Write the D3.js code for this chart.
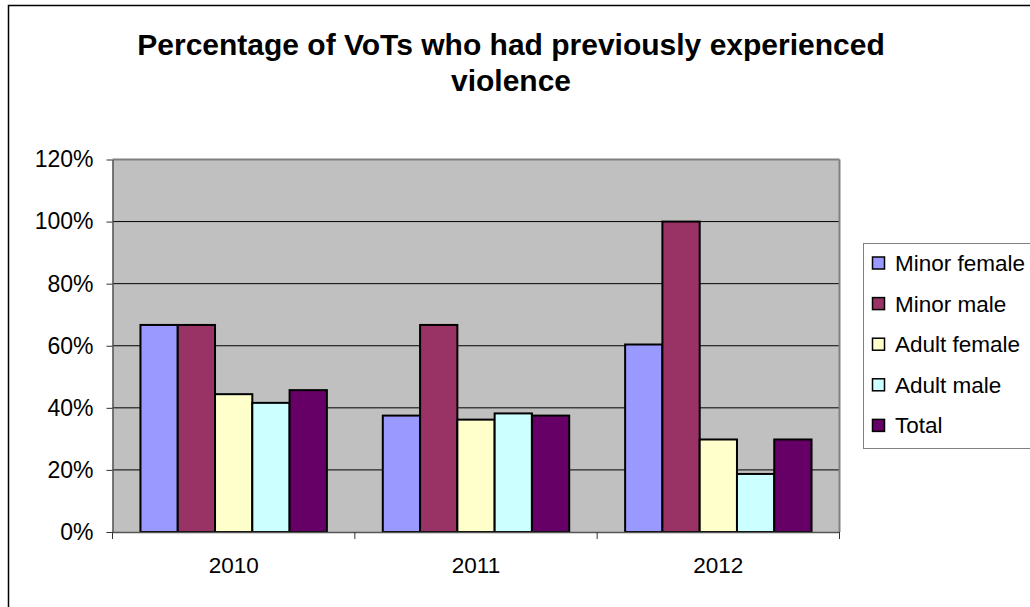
<!DOCTYPE html>
<html>
<head>
<meta charset="utf-8">
<script src="https://cdn.jsdelivr.net/npm/d3@7"></script>
<style>
  html, body { margin: 0; padding: 0; background: #fff; }
  svg { display: block; font-family: "Liberation Sans", Arial, sans-serif; }
</style>
</head>
<body>
<svg id="chart" width="1030" height="607"></svg>
<script>
// Data
const years = ["2010", "2011", "2012"];
const seriesNames = ["Minor female", "Minor male", "Adult female", "Adult male", "Total"];
const minorFemale = [66.7, 37.5, 60.4];
const minorMale   = [66.7, 66.7, 100];
const adultFemale = [44.4, 36.2, 29.8];
const adultMale   = [41.6, 38.2, 18.7];
const total       = [45.7, 37.5, 29.8];
const yTicks = [0, 20, 40, 60, 80, 100, 120];
const seriesColors = ["#9999FF", "#993366", "#FFFFCC", "#CCFFFF", "#660066"];

const seriesValues = [minorFemale, minorMale, adultFemale, adultMale, total];

const svg = d3.select("#chart");

// Outer chart frame (runs past the window on the right and bottom)
svg.append("rect")
  .attr("x", 8.5).attr("y", 5.5)
  .attr("width", 1040).attr("height", 620)
  .attr("fill", "#fff").attr("stroke", "#000").attr("stroke-width", 1.5);

// Title
const title = svg.append("text")
  .attr("text-anchor", "middle")
  .attr("font-weight", "bold")
  .attr("font-size", 30)
  .attr("fill", "#000");
title.append("tspan").attr("x", 511).attr("y", 55)
  .text("Percentage of VoTs who had previously experienced");
title.append("tspan").attr("x", 511).attr("y", 91)
  .text("violence");

// Plot area
const plot = { left: 112.5, right: 839.5, top: 159.5, bottom: 532 };

const x = d3.scaleBand()
  .domain(years)
  .range([plot.left, plot.right]);

// Gap width of 150%: five bars plus 1.5 bar widths of gap per category
const barW = x.bandwidth() / (seriesNames.length + 1.5);
const xInner = d3.scaleBand()
  .domain(seriesNames)
  .range([0, barW * seriesNames.length]);

const y = d3.scaleLinear()
  .domain([0, 120])
  .range([plot.bottom, plot.top]);

// Plot background
svg.append("rect")
  .attr("x", plot.left).attr("y", plot.top)
  .attr("width", plot.right - plot.left)
  .attr("height", plot.bottom - plot.top)
  .attr("fill", "#C0C0C0");

// Horizontal gridlines
svg.append("g")
  .selectAll("line")
  .data(yTicks.filter(d => d > 0))
  .join("line")
  .attr("x1", plot.left).attr("x2", plot.right)
  .attr("y1", d => y(d)).attr("y2", d => y(d))
  .attr("stroke", d => d === 120 ? "#808080" : "#000")
  .attr("stroke-width", d => d === 120 ? 2 : 1);

// Right border of the plot area
svg.append("line")
  .attr("x1", plot.right).attr("x2", plot.right)
  .attr("y1", plot.top).attr("y2", plot.bottom)
  .attr("stroke", "#808080").attr("stroke-width", 2);

// Bars
const groups = svg.append("g")
  .selectAll("g")
  .data(years)
  .join("g")
  .attr("transform", d => `translate(${x(d) + (x.bandwidth() - barW * seriesNames.length) / 2},0)`);

groups.selectAll("rect")
  .data((d, i) => seriesNames.map((s, j) => ({ series: s, value: seriesValues[j][i], color: seriesColors[j] })))
  .join("rect")
  .attr("x", d => xInner(d.series))
  .attr("y", d => y(d.value))
  .attr("width", xInner.bandwidth())
  .attr("height", d => y(0) - y(d.value))
  .attr("fill", d => d.color)
  .attr("stroke", "#000")
  .attr("stroke-width", 2);

// Y axis
const yAxis = svg.append("g")
  .attr("transform", `translate(${plot.left},0)`)
  .call(d3.axisLeft(y).tickValues(yTicks).tickFormat(d => d + "%").tickSize(6).tickSizeOuter(0));
yAxis.select(".domain").attr("stroke", "#555").attr("stroke-width", 1.5);
yAxis.selectAll(".tick line").attr("stroke", "#333");
yAxis.selectAll(".tick text")
  .attr("font-size", 23)
  .attr("font-family", "Liberation Sans, Arial, sans-serif")
  .attr("fill", "#000")
  .attr("x", -19);

// X axis
const xAxis = svg.append("g")
  .attr("transform", `translate(0,${plot.bottom})`)
  .call(d3.axisBottom(x).tickSize(0).tickSizeOuter(0));
xAxis.select(".domain").attr("stroke", "#555").attr("stroke-width", 1.5);
xAxis.selectAll(".tick text")
  .attr("font-size", 22.5)
  .attr("font-family", "Liberation Sans, Arial, sans-serif")
  .attr("fill", "#000")
  .attr("dy", 0)
  .attr("y", 41);

// Category separator ticks below the x axis
svg.append("g")
  .selectAll("line")
  .data([...years.map(d => x(d)), plot.right])
  .join("line")
  .attr("x1", d => d).attr("x2", d => d)
  .attr("y1", plot.bottom).attr("y2", plot.bottom + 7)
  .attr("stroke", "#333").attr("stroke-width", 1);

// Legend
const legend = svg.append("g");
legend.append("rect")
  .attr("x", 863.5).attr("y", 243.5)
  .attr("width", 180).attr("height", 205)
  .attr("fill", "#fff").attr("stroke", "#808080").attr("stroke-width", 1);

const items = legend.selectAll("g.item")
  .data(seriesNames)
  .join("g")
  .attr("class", "item")
  .attr("transform", (d, i) => `translate(872,${263 + i * 40.6})`);

items.append("rect")
  .attr("x", 0.5).attr("y", -6)
  .attr("width", 12).attr("height", 12)
  .attr("fill", (d, i) => seriesColors[i])
  .attr("stroke", "#000").attr("stroke-width", 1.5);

items.append("text")
  .attr("x", 23).attr("y", 8)
  .attr("font-size", 22.5)
  .attr("fill", "#000")
  .text(d => d);
</script>
</body>
</html>
